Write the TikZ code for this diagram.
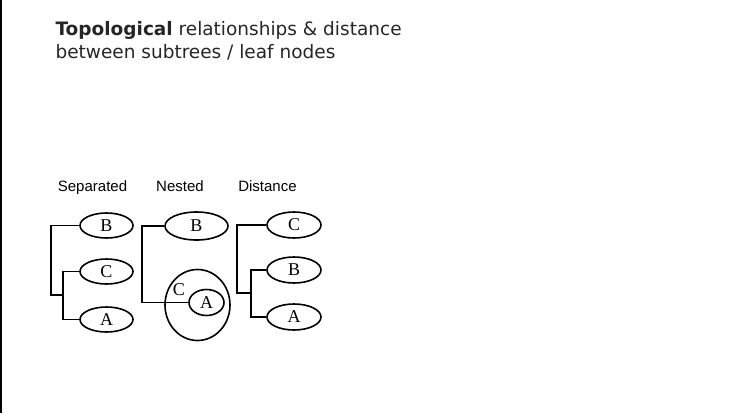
\documentclass[tikz,border=0pt]{standalone}
\usepackage{fontspec}
\usepackage{tikz}
\usetikzlibrary{shapes.geometric}
\newfontfamily\headfont{DejaVu Sans}
\newfontfamily\labelfont{Liberation Sans}
\newfontfamily\leaffont{Liberation Serif}
\definecolor{title grey}{rgb}{0.15, 0.15, 0.15}

\tikzset{
	leaf/.style = {ellipse, draw, line width=1.6pt, inner sep=0pt,
		minimum width=53pt, minimum height=25pt, font=\leaffont\fontsize{18}{18}\selectfont},
	branch/.style = {line width=1.6pt},
	treelabel/.style = {anchor=base, font=\labelfont\fontsize{15}{15}\selectfont},
	heading/.style = {anchor=base west, text=title grey, font=\headfont\fontsize{18.5}{18.5}\selectfont}
}

\begin{document}
\begin{tikzpicture}[x=1pt, y=-1pt]
			\useasboundingbox (0, 0) rectangle (752, 413);
			% frame line on the left
			\draw[line width=1.5pt] (0.75, 0) -- (0.75, 413);
			% heading
			\node[heading] (head1) at (52, 35) {\textbf{Topological} relationships \& distance};
			\node[heading] (head2) at (52, 58) {between subtrees / leaf nodes};
			% column titles
			\node[treelabel] (tsep) at (92.5, 191) {Separated};
			\node[treelabel] (tnes) at (180, 191) {Nested};
			\node[treelabel] (tdis) at (267.5, 191) {Distance};
			% part for separated
			\begin{scope}
				\node[leaf] (sepB) at (106.5, 225.5) {B};
				\node[leaf] (sepC) at (106.5, 271.5) {C};
				\node[leaf] (sepA) at (106.5, 319.5) {A};
				\coordinate (sepJ) at (63, 295);
				\draw[branch] (sepB.west) -| (51, 295) -- (sepJ);
				\draw[branch] (sepC.west) -| (sepJ) |- (sepA.west);
			\end{scope}
			% part for nested
			\begin{scope}
				\node[leaf, minimum width=63pt, minimum height=28pt] (nesB) at (196.5, 226) {B};
				\node[ellipse, draw, line width=1.6pt, minimum width=65pt, minimum height=71pt] (nesC) at (197.5, 305) {};
				\node[leaf, minimum width=35pt, minimum height=26pt] (nesA) at (206.5, 302.5) {A};
				\node[font=\leaffont\fontsize{18}{18}\selectfont, inner sep=0pt] (nesCl) at (179, 290) {C};
				\draw[branch] (nesB.west) -- ++(-22, 0) |- (nesA.west);
			\end{scope}
			% part for distance
			\begin{scope}
				\node[leaf, minimum width=54pt, minimum height=26pt] (disC) at (294, 225) {C};
				\node[leaf, minimum width=54pt, minimum height=26pt] (disB) at (294, 270) {B};
				\node[leaf, minimum width=54pt, minimum height=26pt] (disA) at (294, 317) {A};
				\coordinate (disJ) at (251, 293);
				\draw[branch] (disC.west) -| (237, 293) -- (disJ);
				\draw[branch] (disB.west) -| (disJ) |- (disA.west);
			\end{scope}
		\end{tikzpicture}
\end{document}
